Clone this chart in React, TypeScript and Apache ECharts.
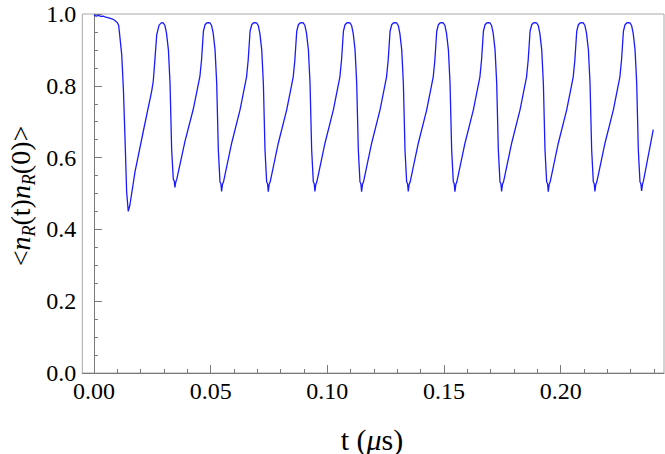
import React, { useEffect, useRef } from "react";
import * as echarts from "echarts";

// t (µs), <n_R(t) n_R(0)>
const startSegment: [number, number][] = [
  [0.0, 0.997], [0.001, 0.994], [0.002, 0.996], [0.003, 0.993], [0.004, 0.994], [0.005, 0.991],
  [0.006, 0.99], [0.007, 0.988], [0.008, 0.986], [0.009, 0.982], [0.01, 0.976], [0.0106, 0.968],
  [0.0111, 0.937], [0.0119, 0.886], [0.0126, 0.793], [0.0133, 0.655], [0.014, 0.505], [0.0147, 0.45],
  [0.0154, 0.468], [0.0176, 0.561], [0.0211, 0.672], [0.0247, 0.784], [0.0254, 0.812], [0.0262, 0.88],
  [0.0269, 0.942], [0.0279, 0.969],
];

const oscillations: [number, number][] = [
  [0.029, 0.976], [0.0297, 0.975], [0.0304, 0.968], [0.0311, 0.946], [0.0319, 0.9], [0.0326, 0.807], [0.0333, 0.621], [0.034, 0.54], [0.0344, 0.535], [0.0347, 0.517], [0.0351, 0.533], [0.0355, 0.54], [0.039, 0.645], [0.0426, 0.736], [0.0454, 0.826], [0.0461, 0.872], [0.0469, 0.952], [0.0476, 0.97], [0.0483, 0.975],
  [0.049, 0.976], [0.0497, 0.975], [0.0504, 0.968], [0.0511, 0.946], [0.0519, 0.9], [0.0526, 0.807], [0.0533, 0.621], [0.054, 0.533], [0.0544, 0.527], [0.0547, 0.506], [0.0551, 0.526], [0.0555, 0.532], [0.059, 0.64], [0.0626, 0.733], [0.0654, 0.825], [0.0661, 0.872], [0.0669, 0.952], [0.0676, 0.97], [0.0683, 0.975],
  [0.069, 0.976], [0.0697, 0.975], [0.0704, 0.968], [0.0711, 0.946], [0.0719, 0.9], [0.0726, 0.807], [0.0733, 0.621], [0.074, 0.533], [0.0744, 0.527], [0.0747, 0.505], [0.0751, 0.526], [0.0755, 0.532], [0.079, 0.64], [0.0826, 0.733], [0.0854, 0.825], [0.0861, 0.872], [0.0869, 0.952], [0.0876, 0.97], [0.0883, 0.975],
  [0.089, 0.976], [0.0897, 0.975], [0.0904, 0.968], [0.0911, 0.946], [0.0919, 0.9], [0.0926, 0.807], [0.0933, 0.621], [0.094, 0.533], [0.0944, 0.527], [0.0947, 0.506], [0.0951, 0.526], [0.0955, 0.532], [0.099, 0.64], [0.1026, 0.733], [0.1054, 0.825], [0.1061, 0.872], [0.1069, 0.952], [0.1076, 0.97], [0.1083, 0.975],
  [0.109, 0.976], [0.1097, 0.975], [0.1104, 0.968], [0.1111, 0.946], [0.1119, 0.9], [0.1126, 0.807], [0.1133, 0.621], [0.114, 0.533], [0.1144, 0.527], [0.1147, 0.505], [0.1151, 0.526], [0.1155, 0.532], [0.119, 0.64], [0.1226, 0.733], [0.1254, 0.825], [0.1261, 0.872], [0.1269, 0.952], [0.1276, 0.97], [0.1283, 0.975],
  [0.129, 0.976], [0.1297, 0.975], [0.1304, 0.968], [0.1311, 0.946], [0.1319, 0.9], [0.1326, 0.807], [0.1333, 0.621], [0.134, 0.533], [0.1344, 0.527], [0.1347, 0.506], [0.1351, 0.526], [0.1355, 0.532], [0.139, 0.64], [0.1426, 0.733], [0.1454, 0.825], [0.1461, 0.872], [0.1469, 0.952], [0.1476, 0.97], [0.1483, 0.975],
  [0.149, 0.976], [0.1497, 0.975], [0.1504, 0.968], [0.1511, 0.946], [0.1519, 0.9], [0.1526, 0.807], [0.1533, 0.621], [0.154, 0.533], [0.1544, 0.527], [0.1547, 0.505], [0.1551, 0.526], [0.1555, 0.532], [0.159, 0.64], [0.1626, 0.733], [0.1654, 0.825], [0.1661, 0.872], [0.1669, 0.952], [0.1676, 0.97], [0.1683, 0.975],
  [0.169, 0.976], [0.1697, 0.975], [0.1704, 0.968], [0.1711, 0.946], [0.1719, 0.9], [0.1726, 0.807], [0.1733, 0.621], [0.174, 0.533], [0.1744, 0.527], [0.1747, 0.506], [0.1751, 0.526], [0.1755, 0.532], [0.179, 0.64], [0.1826, 0.733], [0.1854, 0.825], [0.1861, 0.872], [0.1869, 0.952], [0.1876, 0.97], [0.1883, 0.975],
  [0.189, 0.976], [0.1897, 0.975], [0.1904, 0.968], [0.1911, 0.946], [0.1919, 0.9], [0.1926, 0.807], [0.1933, 0.621], [0.194, 0.533], [0.1944, 0.527], [0.1947, 0.505], [0.1951, 0.526], [0.1955, 0.532], [0.199, 0.64], [0.2026, 0.733], [0.2054, 0.825], [0.2061, 0.872], [0.2069, 0.952], [0.2076, 0.97], [0.2083, 0.975],
  [0.209, 0.976], [0.2097, 0.975], [0.2104, 0.968], [0.2111, 0.946], [0.2119, 0.9], [0.2126, 0.807], [0.2133, 0.621], [0.214, 0.533], [0.2144, 0.527], [0.2147, 0.506], [0.2151, 0.526], [0.2155, 0.532], [0.219, 0.64], [0.2226, 0.733], [0.2254, 0.825], [0.2261, 0.872], [0.2269, 0.952], [0.2276, 0.97], [0.2283, 0.975],
  [0.229, 0.976], [0.2297, 0.975], [0.2304, 0.968], [0.2311, 0.946], [0.2319, 0.9], [0.2326, 0.807], [0.2333, 0.621], [0.234, 0.533], [0.2344, 0.527], [0.2347, 0.507], [0.2351, 0.526], [0.2355, 0.535], [0.2397, 0.678],
];

const xMajorTicks = [0, 0.05, 0.1, 0.15, 0.2];
const xMinorTicks = [0.01, 0.02, 0.03, 0.04, 0.06, 0.07, 0.08, 0.09, 0.11, 0.12, 0.13, 0.14, 0.16, 0.17, 0.18, 0.19, 0.21, 0.22, 0.23, 0.24];
const yTicks = [0, 0.2, 0.4, 0.6, 0.8, 1.0];

const FONT = "Liberation Serif";
const AXIS = "#7a7a7a";
const FRAME = "#a8a8a8";

// request the serif faces as early as possible
const fontLoads: Promise<unknown>[] = [];
try {
  const fs: any = (document as any).fonts;
  if (fs && fs.load) {
    fontLoads.push(fs.load('24px "Liberation Serif"'));
    fontLoads.push(fs.load('italic 24px "Liberation Serif"'));
  }
} catch (e) {
  /* ignore */
}

function buildOption() {
  const xMin = -0.005;
  const xMax = 0.2443;
  return {
    animation: false,
    textStyle: { fontFamily: FONT },
    grid: {
      left: 82.3,
      right: 1,
      top: 14,
      bottom: 81,
      show: true,
      borderColor: FRAME,
      borderWidth: 1,
      backgroundColor: "transparent",
    },
    xAxis: [
      {
        type: "value",
        min: xMin,
        max: xMax,
        position: "bottom",
        axisLine: { show: true, onZero: false, lineStyle: { color: AXIS, width: 1 } },
        axisTick: { show: true, inside: true, length: 8, customValues: xMajorTicks, lineStyle: { color: AXIS } },
        axisLabel: {
          show: true,
          customValues: xMajorTicks,
          formatter: (v: number) => v.toFixed(2),
          fontFamily: FONT,
          fontSize: 24,
          color: "#000",
          margin: 6,
        },
        splitLine: { show: false },
      },
      {
        type: "value",
        min: xMin,
        max: xMax,
        position: "bottom",
        axisLine: { show: false, onZero: false },
        axisTick: { show: true, inside: true, length: 4, customValues: xMinorTicks, lineStyle: { color: AXIS } },
        axisLabel: { show: false },
        splitLine: { show: false },
      },
    ],
    yAxis: {
      type: "value",
      min: 0,
      max: 1,
      interval: 0.2,
      axisLine: { show: true, lineStyle: { color: AXIS, width: 1 } },
      axisTick: { show: true, inside: true, length: 8, lineStyle: { color: AXIS } },
      minorTick: { show: true, splitNumber: 4, length: 4, lineStyle: { color: AXIS } },
      axisLabel: {
        show: true,
        customValues: yTicks,
        formatter: (v: number) => v.toFixed(1),
        fontFamily: FONT,
        fontSize: 24,
        color: "#000",
        margin: 6,
      },
      splitLine: { show: false },
    },
    graphic: [
      {
        type: "text",
        x: 20,
        y: 196,
        rotation: Math.PI / 2,
        style: {
          text: "<{i|n}{s|R}(t){i|n}{s|R}(0)>",
          fontFamily: FONT,
          fontSize: 28,
          fill: "#000",
          align: "center",
          verticalAlign: "middle",
          rich: {
            i: { fontFamily: FONT, fontSize: 28, fontStyle: "italic", fill: "#000" },
            s: { fontFamily: FONT, fontSize: 18, fontStyle: "italic", fill: "#000", padding: [18, 0, 0, 0] },
          },
        },
      },
      {
        type: "text",
        x: 372,
        y: 439,
        style: {
          text: "t ({i|μ}s)",
          fontFamily: FONT,
          fontSize: 30,
          fill: "#000",
          align: "center",
          verticalAlign: "middle",
          rich: {
            i: { fontFamily: FONT, fontSize: 30, fontStyle: "italic", fill: "#000" },
          },
        },
      },
    ],
    series: [
      {
        type: "line",
        xAxisIndex: 0,
        yAxisIndex: 0,
        data: [...startSegment, ...oscillations],
        showSymbol: false,
        symbol: "none",
        lineStyle: { color: "#1a1aff", width: 1.3 },
        itemStyle: { color: "#1a1aff" },
      },
    ],
  };
}

export default function App() {
  const ref = useRef<HTMLDivElement>(null);
  useEffect(() => {
    if (!ref.current) return;
    const chart = echarts.init(ref.current, undefined, { renderer: "svg" });
    chart.setOption(buildOption());
    let alive = true;
    Promise.all(fontLoads)
      .then(() => {
        if (alive && !chart.isDisposed()) chart.setOption(buildOption(), true);
      })
      .catch(() => {});
    return () => {
      alive = false;
      chart.dispose();
    };
  }, []);
  return (
    <div
      ref={ref}
      style={{ position: "fixed", left: 0, top: 0, width: 665, height: 454, background: "#fff" }}
    />
  );
}
